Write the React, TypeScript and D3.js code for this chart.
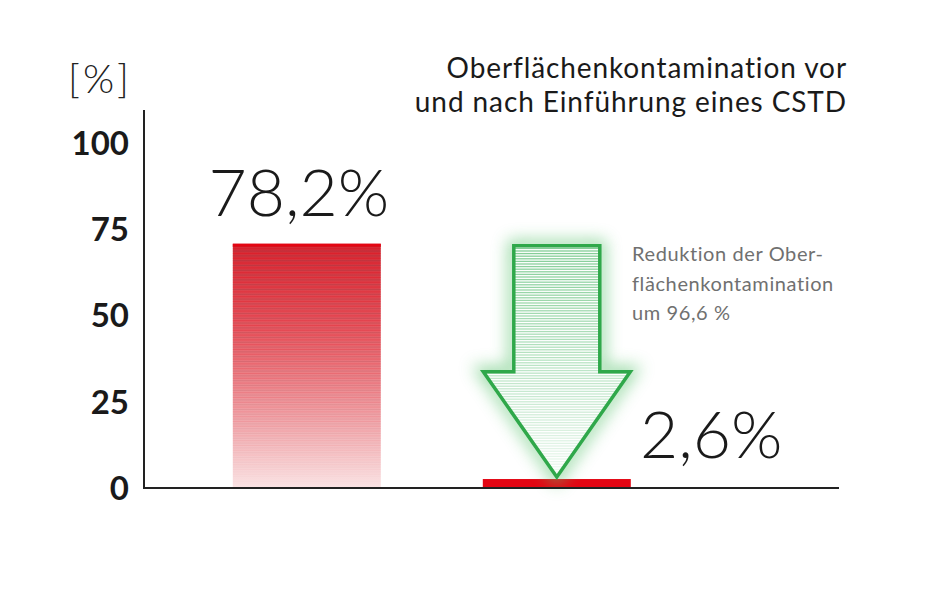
import React from "react";
import * as d3 from "d3";

const categories = ["vor", "nach"];
const barValues = [70.8, 2.6];
const barLabels = ["78,2%", "2,6%"];
const yTicks = [0, 25, 50, 75, 100];
const titleLines = ["Oberflächenkontamination vor", "und nach Einführung eines CSTD"];
const noteLines = ["Reduktion der Ober-", "flächenkontamination", "um 96,6 %"];
const unitLabel = "[%]";

const W = 939;
const H = 600;
const RED = "#e30613";
const GREEN = "#2fa84a";

export default function App() {
  const y = d3.scaleLinear().domain([0, 100]).range([488, 143]);
  const x = d3
    .scaleBand<string>()
    .domain(categories)
    .range([144, 838])
    .paddingInner(0.408)
    .paddingOuter(0.592)
    .align(0.3);
  const bw = x.bandwidth();

  const x0 = x(categories[0])!;
  const x1 = x(categories[1])!;
  const cx1 = x1 + bw / 2;

  const b1Top = y(barValues[0]);
  const b1Bot = y(0);
  const stripeYs = d3.range(b1Top + 2, b1Bot, 2.4);

  const shaftHalf = 43;
  const headHalf = 73.5;
  const arrowTop = y(barValues[0]) + 2;
  const tipY = y(barValues[1]) - 2;
  const headBase = arrowTop + (tipY - arrowTop) * 0.545;
  const arrowPts: [number, number][] = [
    [cx1 - shaftHalf, arrowTop],
    [cx1 + shaftHalf, arrowTop],
    [cx1 + shaftHalf, headBase],
    [cx1 + headHalf, headBase],
    [cx1, tipY],
    [cx1 - headHalf, headBase],
    [cx1 - shaftHalf, headBase],
  ];
  const arrowPath = d3.line()(arrowPts)! + "Z";
  const arrowStripes = d3.range(arrowTop + 2, tipY, 2.6);

  return (
    <svg
      width={W}
      height={H}
      style={{ position: "absolute", left: 0, top: 0, display: "block", background: "#fff" }}
    >
      <defs>
        <linearGradient id="barGrad" x1="0" y1="0" x2="0" y2="1">
          <stop offset="0" stopColor="#d42a35" />
          <stop offset="0.35" stopColor="#e65a63" />
          <stop offset="0.7" stopColor="#f0a3a8" />
          <stop offset="1" stopColor="#fae3e4" />
        </linearGradient>
        <clipPath id="arrowClip">
          <path d={arrowPath} />
        </clipPath>
        <filter id="glow" x="-30%" y="-30%" width="160%" height="160%">
          <feGaussianBlur stdDeviation="8" />
        </filter>
      </defs>

      <text x={68} y={93} fontFamily="Lato" fontWeight={300} fontSize={40} letterSpacing={3} fill="#222">
        {unitLabel}
      </text>

      {titleLines.map((t, i) => (
        <text
          key={i}
          x={847}
          y={78 + i * 34}
          textAnchor="end"
          fontFamily="Lato"
          fontWeight={400}
          fontSize={28}
          letterSpacing={0.9}
          fill="#1a1a1a"
        >
          {t}
        </text>
      ))}

      {yTicks.map((t) => (
        <text
          key={t}
          x={129}
          y={y(t)}
          dy="0.36em"
          textAnchor="end"
          fontFamily="Lato"
          fontWeight={700}
          fontSize={33}
          fill="#1a1a1a"
        >
          {t}
        </text>
      ))}

      <rect x={x0} y={b1Top} width={bw} height={b1Bot - b1Top} fill="url(#barGrad)" />
      {stripeYs.map((sy, i) => (
        <rect
          key={i}
          x={x0}
          y={sy}
          width={bw}
          height={1.1}
          fill={i % 2 === 0 ? "#8a3a40" : RED}
          opacity={0.35 * (1 - (sy - b1Top) / (b1Bot - b1Top))}
        />
      ))}
      <rect x={x0} y={b1Top} width={bw} height={3} fill={RED} />

      <rect x={x1} y={y(barValues[1])} width={bw} height={y(0) - y(barValues[1])} fill={RED} />

      <path d={arrowPath} fill="none" stroke="#5cc36f" strokeWidth={12} opacity={0.6} filter="url(#glow)" />
      <path d={arrowPath} fill="#fff" />
      <g clipPath="url(#arrowClip)">
        {arrowStripes.map((sy, i) => (
          <rect
            key={i}
            x={cx1 - headHalf}
            y={sy}
            width={headHalf * 2}
            height={1.3}
            fill="#6cc483"
            opacity={0.85 - 0.75 * ((sy - arrowTop) / (tipY - arrowTop))}
          />
        ))}
      </g>
      <path d={arrowPath} fill="none" stroke={GREEN} strokeWidth={3.5} strokeLinejoin="miter" />

      <line x1={144} x2={144} y1={110} y2={489} stroke="#222" strokeWidth={2} />
      <line x1={143} x2={839} y1={488} y2={488} stroke="#222" strokeWidth={2} />

      <text
        x={x0 + bw / 2 - 8}
        y={b1Top - 28}
        textAnchor="middle"
        fontFamily="Lato"
        fontWeight={300}
        fontSize={66}
        fill="#1a1a1a"
      >
        {barLabels[0]}
      </text>
      <text x={640} y={458} fontFamily="Lato" fontWeight={300} fontSize={66} fill="#1a1a1a">
        {barLabels[1]}
      </text>

      {noteLines.map((t, i) => (
        <text
          key={i}
          x={632}
          y={261 + i * 29.5}
          fontFamily="Lato"
          fontSize={20}
          letterSpacing={0.6}
          fill="#707070"
        >
          {t}
        </text>
      ))}
    </svg>
  );
}
